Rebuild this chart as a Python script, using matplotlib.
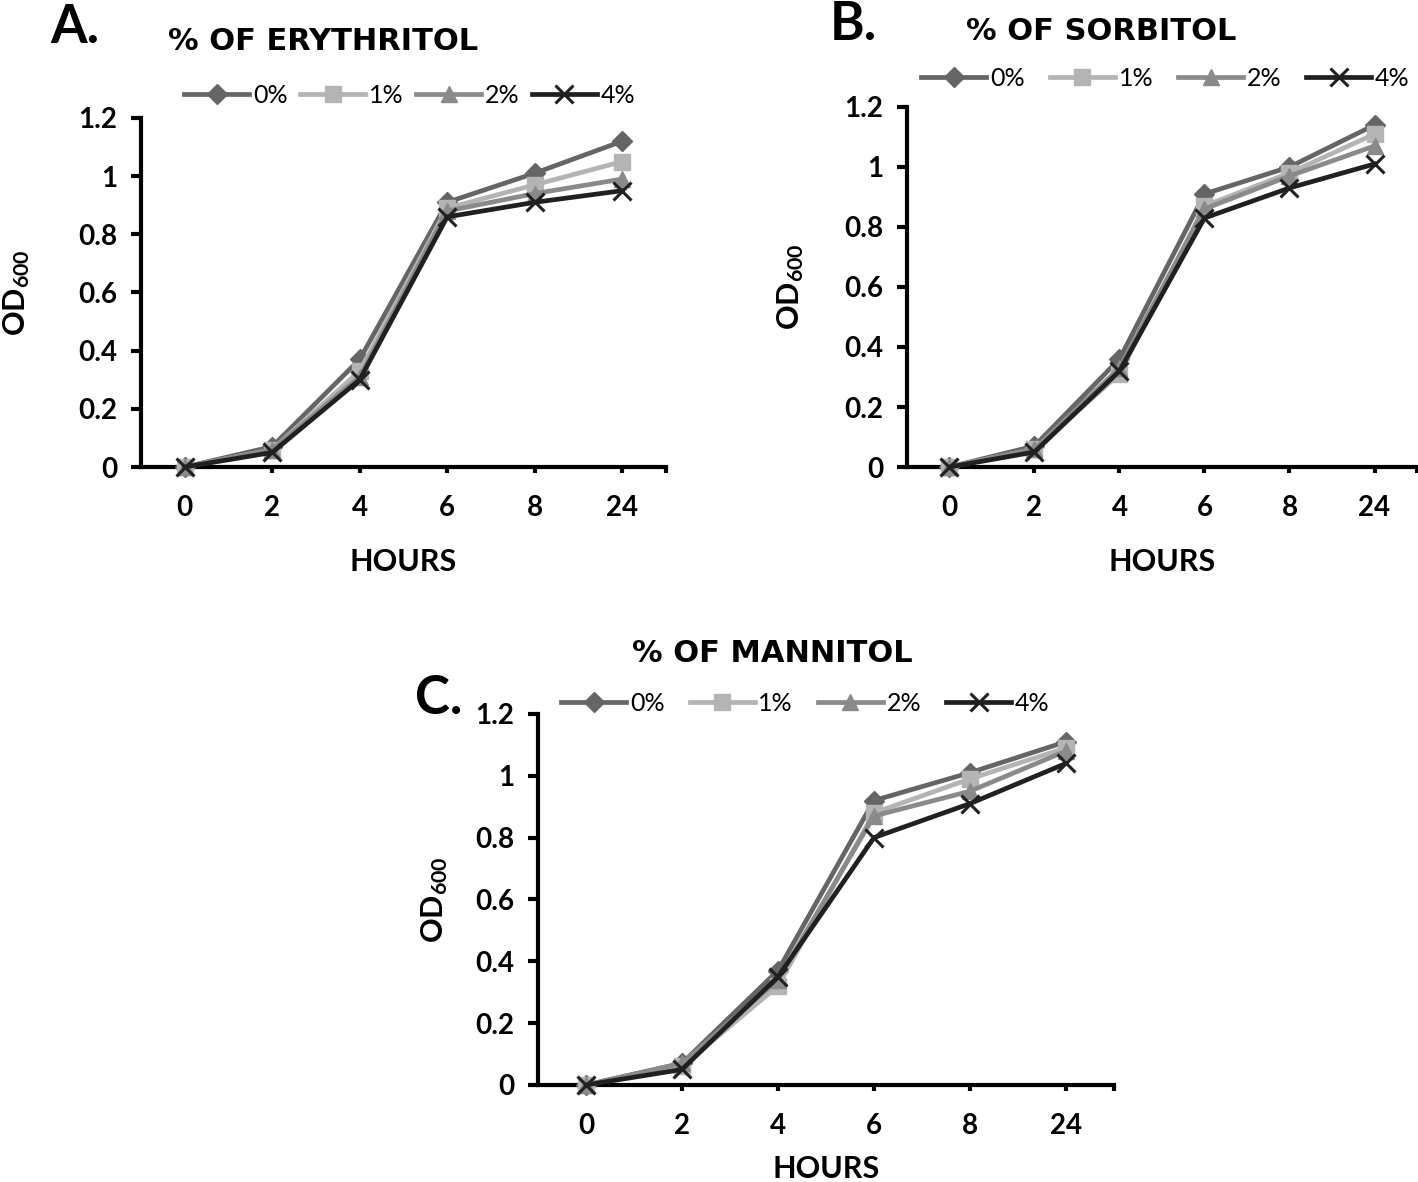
import matplotlib
matplotlib.use("Agg")
import matplotlib.pyplot as plt

plt.rcParams["font.family"] = ["Lato", "DejaVu Sans"]
plt.rcParams["mathtext.fontset"] = "custom"
plt.rcParams["mathtext.rm"] = "Lato:bold"
plt.rcParams["mathtext.bf"] = "Lato:bold"
plt.rcParams["mathtext.default"] = "bf"

hours = ["0", "2", "4", "6", "8", "24"]
concentrations = ["0%", "1%", "2%", "4%"]
od_ticks = [0, 0.2, 0.4, 0.6, 0.8, 1, 1.2]
od_labels = ["0", "0.2", "0.4", "0.6", "0.8", "1", "1.2"]

# OD600 readings per sugar alcohol, one list per concentration
erythritol_0 = [0.0, 0.07, 0.37, 0.91, 1.01, 1.12]
erythritol_1 = [0.0, 0.06, 0.33, 0.89, 0.97, 1.05]
erythritol_2 = [0.0, 0.06, 0.31, 0.88, 0.94, 0.99]
erythritol_4 = [0.0, 0.05, 0.30, 0.86, 0.91, 0.95]

sorbitol_0 = [0.0, 0.07, 0.36, 0.91, 1.00, 1.14]
sorbitol_1 = [0.0, 0.06, 0.31, 0.87, 0.98, 1.11]
sorbitol_2 = [0.0, 0.06, 0.33, 0.86, 0.97, 1.07]
sorbitol_4 = [0.0, 0.05, 0.32, 0.83, 0.93, 1.01]

mannitol_0 = [0.0, 0.07, 0.37, 0.92, 1.01, 1.11]
mannitol_1 = [0.0, 0.06, 0.32, 0.88, 0.99, 1.09]
mannitol_2 = [0.0, 0.07, 0.34, 0.87, 0.95, 1.08]
mannitol_4 = [0.0, 0.05, 0.35, 0.80, 0.91, 1.04]

styles = [
    dict(color="#656565", marker="D", ms=10),
    dict(color="#b4b4b4", marker="s", ms=11),
    dict(color="#8a8a8a", marker="^", ms=12),
    dict(color="#202020", marker="x", ms=13, mew=2.2),
]


def draw_panel(ax, series, legend_xy, colspace, xlab_y, ylab_x):
    x = list(range(len(hours)))
    for label, vals, st in zip(concentrations, series, styles):
        ax.plot(x, vals, lw=3.4, label=label, clip_on=False, zorder=3, **st)
    ax.set_xlim(-0.5, 5.5)
    ax.set_ylim(0, 1.2)
    for side in ("top", "right"):
        ax.spines[side].set_visible(False)
    for side in ("left", "bottom"):
        ax.spines[side].set_linewidth(3)
    ax.tick_params(axis="y", direction="out", length=7, width=3, pad=10)
    ax.tick_params(axis="x", which="both", direction="out", length=4, width=3,
                   pad=16)
    ax.set_xticks([5.5], minor=True)
    ax.set_yticks(od_ticks)
    ax.set_yticklabels(od_labels, fontsize=20, fontweight="bold")
    ax.set_xticks(x)
    ax.set_xticklabels(hours, fontsize=20, fontweight="bold")
    ax.set_xlabel("HOURS", fontsize=22, fontweight="bold", va="top")
    ax.xaxis.set_label_coords(0.5, xlab_y)
    ax.set_ylabel("OD$_{600}$", fontsize=22, fontweight="bold")
    ax.yaxis.set_label_coords(ylab_x, 0.5)
    ax.legend(loc="center", bbox_to_anchor=legend_xy,
              bbox_transform=ax.figure.transFigure, ncol=4, frameon=False,
              prop=dict(family="Lato", weight="normal", size=18),
              handlelength=2.6, handletextpad=0.15,
              columnspacing=colspace, borderpad=0)


fig = plt.figure(figsize=(14.18, 11.82), dpi=100)
ax_a = fig.add_axes([0.0994, 0.6049, 0.3702, 0.2953])
ax_b = fig.add_axes([0.6396, 0.6049, 0.3597, 0.3046])
ax_c = fig.add_axes([0.3794, 0.0821, 0.4062, 0.3139])

draw_panel(ax_a, [erythritol_0, erythritol_1, erythritol_2, erythritol_4],
           (0.289, 0.919), 0.5, -0.232, -0.208)
draw_panel(ax_b, [sorbitol_0, sorbitol_1, sorbitol_2, sorbitol_4],
           (0.822, 0.934), 1.0, -0.225, -0.198)
draw_panel(ax_c, [mannitol_0, mannitol_1, mannitol_2, mannitol_4],
           (0.568, 0.405), 1.0, -0.188, -0.153)

title_kw = dict(fontsize=22, fontweight="bold", family=["DejaVu Sans"],
                va="baseline", ha="left")
fig.text(168 / 1418, 1 - 50 / 1182, "% OF ERYTHRITOL", **title_kw)
fig.text(966 / 1418, 1 - 40 / 1182, "% OF SORBITOL", **title_kw)
fig.text(632 / 1418, 1 - 662 / 1182, "% OF MANNITOL", **title_kw)

letter_kw = dict(fontsize=38, fontweight="bold", va="baseline", ha="left")
fig.text(50 / 1418, 1 - 43 / 1182, "A.", **letter_kw)
fig.text(830 / 1418, 1 - 40 / 1182, "B.", **letter_kw)
fig.text(415 / 1418, 1 - 714 / 1182, "C.", **letter_kw)

fig.savefig("out.png", dpi=100)
